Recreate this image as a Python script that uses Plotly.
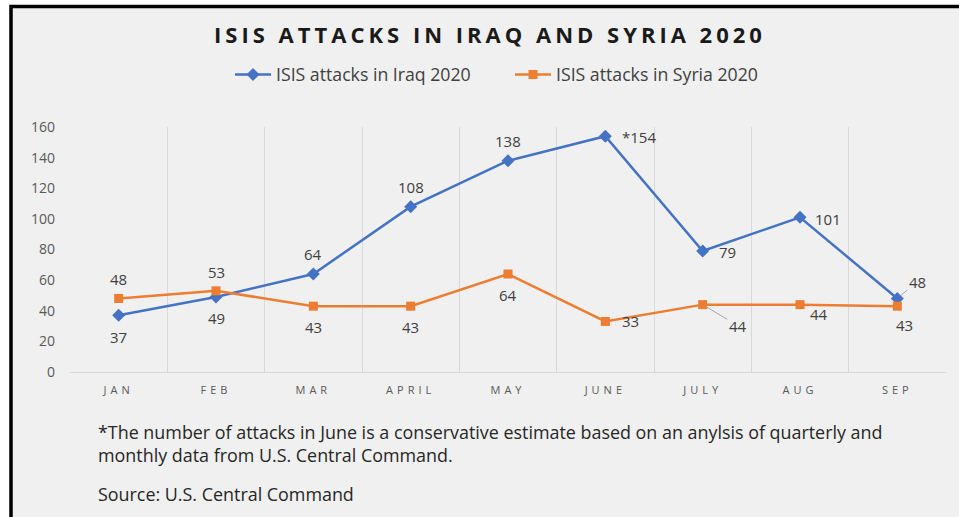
import plotly.graph_objects as go

months = ["JAN", "FEB", "MAR", "APRIL", "MAY", "JUNE", "JULY", "AUG", "SEP"]
iraq = [37, 49, 64, 108, 138, 154, 79, 101, 48]
syria = [48, 53, 43, 43, 64, 33, 44, 44, 43]
iraq_labels = ["37", "49", "64", "108", "138", "*154", "79", "101", "48"]
syria_labels = ["48", "53", "43", "43", "64", "33", "44", "44", "43"]

# label placement (pixel offsets: dx right, dy down) and leader-line flag
iraq_pos = [(0, 22, 0), (0, 21, 0), (0, -20, 0), (0, -20, 0), (0, -20, 0),
            (34, 1, 0), (25, 1, 0), (28, 2, 0), (20, -17, 1)]
syria_pos = [(0, -20, 0), (0, -19, 0), (0, 21, 0), (0, 21, 0), (0, 21, 0),
             (25, 0, 0), (35, 21, 1), (19, 9, 0), (7, 19, 0)]

BLUE = "#4472c4"
ORANGE = "#ed7d31"
BG = "#f0f0f0"
W, H = 959, 517
L, R, T, B = 70, 13, 127, 145
PW, PH = W - L - R, H - T - B


def px_x(p):
    return (p - L) / PW


def px_y(p):
    return (H - B - p) / PH


fig = go.Figure()
fig.add_trace(go.Scatter(
    x=months, y=iraq, mode="lines+markers", name="ISIS attacks in Iraq 2020",
    line=dict(color=BLUE, width=2.5),
    marker=dict(symbol="diamond", size=10, color=BLUE)))
fig.add_trace(go.Scatter(
    x=months, y=syria, mode="lines+markers", name="ISIS attacks in Syria 2020",
    line=dict(color=ORANGE, width=2.5),
    marker=dict(symbol="square", size=9, color=ORANGE)))

label_font = dict(family="Open Sans", size=15, color="#404040")
annotations = []
for vals, labels, pos in ((iraq, iraq_labels, iraq_pos), (syria, syria_labels, syria_pos)):
    for m, v, t, (dx, dy, lead) in zip(months, vals, labels, pos):
        if lead:
            annotations.append(dict(
                x=m, y=v, xref="x", yref="y", text=t, showarrow=True,
                ax=dx, ay=dy, arrowhead=0, arrowwidth=1, arrowcolor="#a6a6a6",
                standoff=4, font=label_font))
        else:
            annotations.append(dict(
                x=m, y=v, xref="x", yref="y", text=t, showarrow=False,
                xshift=dx, yshift=-dy, font=label_font))

foot_font = dict(family="Open Sans", size=17.9, color="#262626")
annotations += [
    dict(xref="paper", yref="paper", x=px_x(96), y=px_y(432), xanchor="left", yanchor="middle",
         showarrow=False, align="left", font=foot_font,
         text="*The number of attacks in June is a conservative estimate based on an anylsis of quarterly and"),
    dict(xref="paper", yref="paper", x=px_x(96), y=px_y(455), xanchor="left", yanchor="middle",
         showarrow=False, align="left", font=foot_font,
         text="monthly data from U.S. Central Command."),
    dict(xref="paper", yref="paper", x=px_x(96), y=px_y(494), xanchor="left", yanchor="middle",
         showarrow=False, align="left", font=foot_font,
         text="Source: U.S. Central Command"),
]

shapes = [
    # grey card with black border (right and bottom edges run off the page)
    dict(type="rect", xref="paper", yref="paper", layer="below",
         x0=px_x(11), y0=px_y(560), x1=px_x(1000), y1=px_y(6.5),
         fillcolor=BG, line=dict(color="#000000", width=3.5)),
]

fig.update_layout(
    width=W, height=H,
    margin=dict(l=L, r=R, t=T, b=B),
    paper_bgcolor="#ffffff", plot_bgcolor=BG,
    title=dict(
        text='<span style="letter-spacing:4px"><b>ISIS ATTACKS IN IRAQ AND SYRIA 2020</b></span>',
        x=490 / W, xanchor="center", y=1 - 35 / H, yanchor="middle",
        font=dict(family="Open Sans", size=22, color="#1a1a1a")),
    legend=dict(orientation="h", x=px_x(230), xanchor="left", y=px_y(75), yanchor="middle",
                font=dict(family="Open Sans", size=17.7, color="#404040"),
                bgcolor="rgba(0,0,0,0)", itemwidth=36,
                entrywidth=229, entrywidthmode="pixels"),
    showlegend=True,
    annotations=annotations,
    shapes=shapes,
    xaxis=dict(
        type="category", tickson="boundaries", showgrid=True, gridcolor="#d9d9d9", gridwidth=1,
        showline=True, linecolor="#d9d9d9", linewidth=1, ticks="",
        tickmode="array", tickvals=months,
        ticktext=['<span style="letter-spacing:4px">%s</span>' % m for m in months],
        tickfont=dict(family="Open Sans", size=11, color="#595959"),
        ticklabelstandoff=8, range=[-0.5, 8.5], fixedrange=True),
    yaxis=dict(
        range=[0, 160], dtick=20, showgrid=False, zeroline=False, showline=False,
        tickfont=dict(family="Open Sans", size=14, color="#595959"),
        ticklabelstandoff=14, fixedrange=True),
)

fig.write_html("out.html", config={"displayModeBar": False},
               post_script="document.body.style.margin='0';")
